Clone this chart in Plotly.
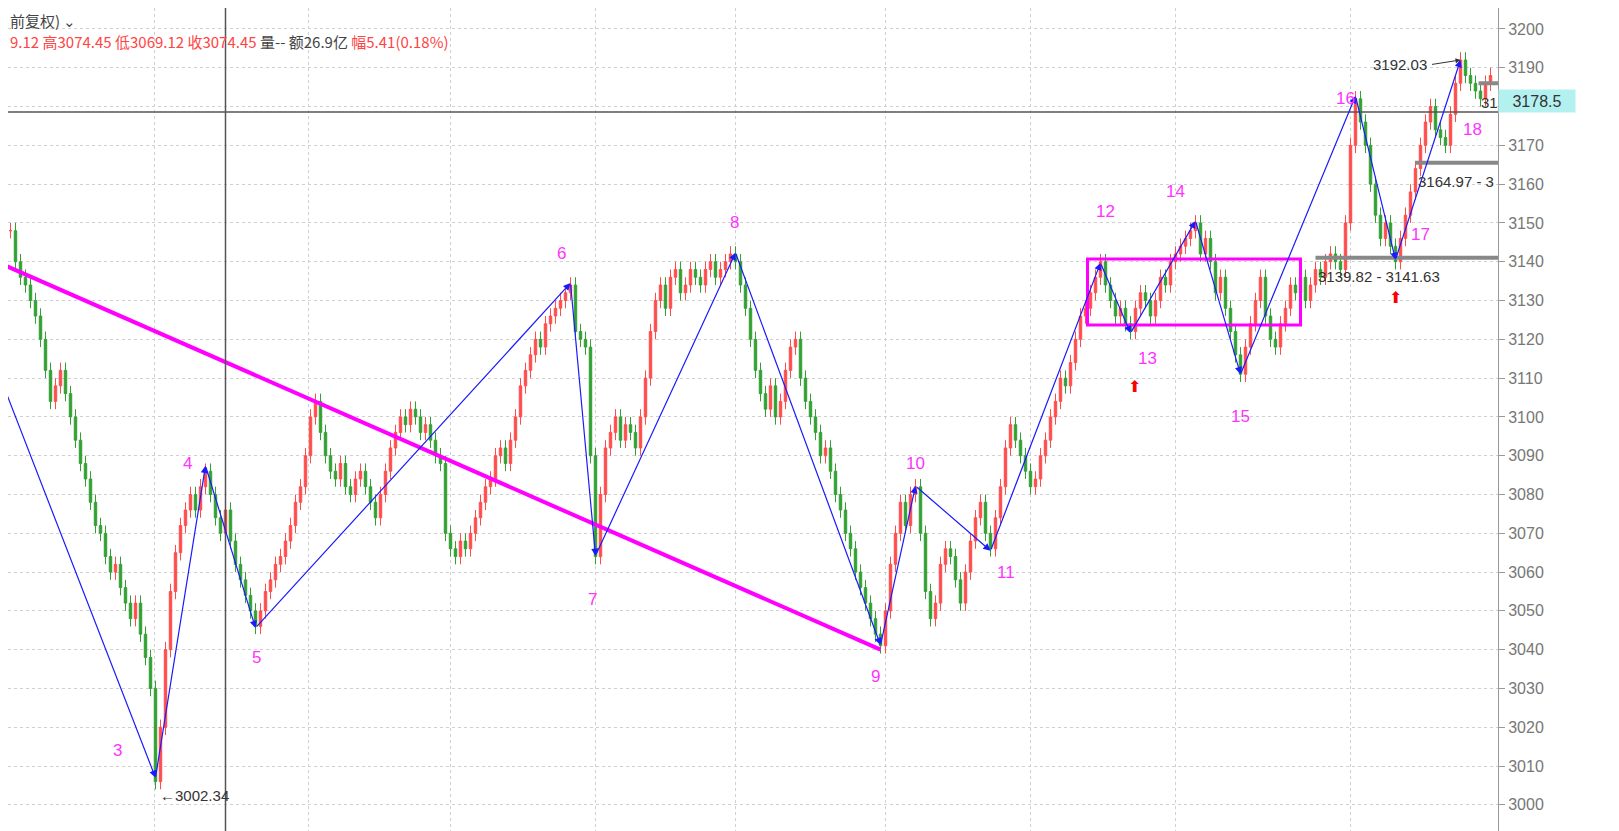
import plotly.graph_objects as go

# 收盘价
closes = [
    3148, 3140, 3136, 3134, 3130, 3126, 3120, 3112, 3104, 3108, 3112, 3106, 3100, 3094, 3088, 3084, 3078, 3072, 3070, 3064,
    3060, 3062, 3056, 3052, 3048, 3052, 3044, 3038, 3030, 3006,
    3020, 3040, 3055, 3065, 3072, 3076, 3080, 3076, 3082, 3086,
    3080, 3074, 3070, 3076, 3068, 3062, 3058, 3054, 3050, 3046,
    3050, 3055, 3058, 3062, 3064, 3068, 3072, 3078, 3082, 3090, 3100, 3104, 3096, 3090, 3086, 3084, 3088, 3082, 3080, 3084,
    3086, 3082, 3078, 3074, 3080, 3086, 3092, 3096, 3100, 3098, 3102, 3100, 3096, 3098, 3094, 3090, 3088, 3070, 3066, 3064,
    3068, 3066, 3070, 3074, 3078, 3082, 3084, 3090, 3092, 3088, 3094, 3100, 3108, 3112, 3116, 3120, 3118, 3124, 3126, 3128,
    3130, 3132, 3134,
    3122, 3120, 3118, 3090, 3064,
    3080, 3092, 3096, 3100, 3094, 3098, 3096, 3092, 3100, 3110, 3122, 3130, 3134, 3128, 3136, 3138, 3132, 3134, 3138, 3136,
    3134, 3138, 3140, 3136, 3138, 3140, 3142, 3140,
    3134, 3128, 3120, 3112, 3106, 3102, 3108, 3100, 3104, 3112, 3118, 3120, 3110, 3104, 3100, 3096, 3090, 3092, 3086, 3080,
    3076, 3070, 3066, 3060, 3056, 3052, 3048, 3044, 3041,
    3050, 3062, 3070, 3078, 3072, 3080, 3082,
    3070, 3055, 3048, 3052, 3062, 3066, 3064, 3058, 3052, 3060, 3068, 3074, 3078, 3070, 3066,
    3074, 3082, 3092, 3098, 3094, 3090, 3086, 3082, 3084, 3090, 3094, 3100, 3104, 3110, 3108, 3114, 3120, 3126, 3128, 3132,
    3136, 3140,
    3134, 3130, 3126, 3128, 3124, 3122,
    3128, 3132, 3130, 3126, 3130, 3136, 3134, 3140, 3142, 3144, 3146, 3148, 3150,
    3142, 3146, 3140, 3132, 3136, 3128, 3122, 3116, 3111,
    3118, 3124, 3130, 3136, 3126, 3120, 3118, 3124, 3128, 3134, 3132, 3136, 3130, 3134, 3138, 3136, 3140, 3142, 3140, 3138,
    3150, 3170, 3182,
    3176, 3170, 3160, 3152, 3146, 3150, 3144, 3140,
    3146, 3152, 3158, 3164, 3170, 3176, 3180, 3174, 3172, 3170, 3178, 3186, 3192,
    3188, 3186, 3184, 3182, 3186, 3188,
]

# 波段转折点 (K线序号, 价格)
pivot_idx = [-2, 29, 39, 49, 112, 117, 145, 174, 181, 196, 218, 224, 237, 246, 269, 277, 290]
pivot_px = [3110, 3007, 3087.4, 3045.6, 3134.5, 3064.2, 3142.3, 3041.2, 3082.2, 3065.5, 3139.7, 3121.6, 3150.5, 3111, 3182.7, 3140.5, 3192]
pivot_labels = ["", "3", "4", "5", "6", "7", "8", "9", "10", "11", "12", "13", "14", "15", "16", "17", "18"]
label_pos = [(0, 0), (21.4, 3014), (35.4, 3088), (49.2, 3038), (110.2, 3142), (116.4, 3053), (144.8, 3150),
             (173, 3033), (181, 3088), (199, 3060), (219, 3153), (227.4, 3115), (233, 3158), (246, 3100),
             (267, 3182), (282, 3147), (292.4, 3174)]

trend_x = [-1, 174]
trend_y = [3139, 3040]
box_x = [215.4, 258]
box_y = [3123.7, 3140.7]

opens = [closes[0]] + closes[:-1]
highs = [max(o, c) + 2 for o, c in zip(opens, closes)]
lows = [min(o, c) - 2 for o, c in zip(opens, closes)]
idx = list(range(len(closes)))

fig = go.Figure()
fig.add_trace(go.Candlestick(
    x=idx, open=opens, high=highs, low=lows, close=closes,
    increasing=dict(line=dict(color='#ff4d4d', width=1), fillcolor='#ff4d4d'),
    decreasing=dict(line=dict(color='#33a033', width=1), fillcolor='#33a033'),
    whiskerwidth=0, showlegend=False, hoverinfo='skip'))

# 趋势线
fig.add_trace(go.Scatter(x=trend_x, y=trend_y, mode='lines', line=dict(color='#ff00ff', width=4),
                         showlegend=False, hoverinfo='skip'))
fig.add_shape(type='rect', x0=box_x[0], x1=box_x[1], y0=box_y[0], y1=box_y[1],
              line=dict(color='#ff00ff', width=3))

# 波段箭头
for i in range(1, len(pivot_idx)):
    fig.add_annotation(x=pivot_idx[i], y=pivot_px[i], ax=pivot_idx[i - 1], ay=pivot_px[i - 1],
                       xref='x', yref='y', axref='x', ayref='y', text='', showarrow=True,
                       arrowhead=2, arrowsize=1.2, arrowwidth=1.2, arrowcolor='#1a1aff')
for lab, (lx, ly) in zip(pivot_labels, label_pos):
    if lab:
        fig.add_annotation(x=lx, y=ly, text=lab, showarrow=False,
                           font=dict(color='#ff33ff', size=17, family='Arial'))

# 十字光标
fig.add_hline(y=3178.6, line=dict(color='#555555', width=1.5))
fig.add_vline(x=43, line=dict(color='#555555', width=1.5))

# 支撑/压力线
for x0, y0, txt in [(261, 3141, '3139.82 - 3141.63'), (281, 3165.5, '3164.97 - 3'), (293.6, 3186, '31')]:
    fig.add_shape(type='line', x0=x0, x1=297.5, y0=y0, y1=y0, line=dict(color='#888888', width=4))
    fig.add_annotation(x=x0, y=y0 - 2.2, text=txt, xanchor='left', yanchor='top', showarrow=False,
                       font=dict(size=15, color='#333333', family='Arial'))
fig.add_annotation(x=290, y=3192, ax=284, ay=3190.8, xref='x', yref='y', axref='x', ayref='y',
                   text='', showarrow=True, arrowhead=2, arrowwidth=1, arrowcolor='#333333')
fig.add_annotation(x=283.6, y=3190.8, text='3192.03', xanchor='right', showarrow=False,
                   font=dict(size=15, color='#333333', family='Arial'))
fig.add_annotation(x=29.5, y=3002.3, text='←3002.34', xanchor='left', showarrow=False,
                   font=dict(size=15, color='#333333', family='Arial'))

# 红色箭头
for ax_, ay_ in [(224.8, 3108), (277, 3131)]:
    fig.add_annotation(x=ax_, y=ay_, text='⬆', showarrow=False, font=dict(size=16, color='#ff0000'))

# 当前价标签
fig.add_annotation(xref='paper', x=1.0, y=3181.5, text='3178.5', xanchor='left', showarrow=False,
                   bgcolor='#b3f0f0', font=dict(size=16, color='#333333', family='Arial'), width=74, height=20)

# 顶部信息栏
fig.add_annotation(xref='paper', yref='paper', x=0, y=1.0, xanchor='left', yanchor='top', showarrow=False,
                   text='前复权) ⌄', font=dict(size=15, color='#444444', family='Noto Sans CJK SC'))
fig.add_annotation(xref='paper', yref='paper', x=0, y=0.975, xanchor='left', yanchor='top', showarrow=False,
                   text="<span style='color:#ff4444'>9.12 高3074.45 低3069.12 收3074.45</span> "
                        "<span style='color:#444444'>量-- 额26.9亿</span> "
                        "<span style='color:#ff4444'>幅5.41(0.18%)</span>",
                   font=dict(size=15, family='Noto Sans CJK SC'))

fig.update_xaxes(range=[-0.5, 297.5], showticklabels=False, rangeslider_visible=False,
                 tickvals=[28.8, 59.6, 88, 117, 145, 175, 204, 233, 268], showgrid=True,
                 gridcolor='#d0d0d0', griddash='dot', zeroline=False)
fig.update_yaxes(range=[2991.2, 3205.4], side='right', dtick=10, tick0=3000, showgrid=True,
                 gridcolor='#d0d0d0', griddash='dot', showline=True, linecolor='#999999',
                 tickfont=dict(size=16, color='#777777', family='Arial'), ticks='outside',
                 ticklen=6, tickcolor='#999999', zeroline=False)
fig.update_layout(width=1619, height=831, margin=dict(l=0, r=129, t=0, b=0),
                  plot_bgcolor='white', paper_bgcolor='white')
fig.write_html("out.html")
